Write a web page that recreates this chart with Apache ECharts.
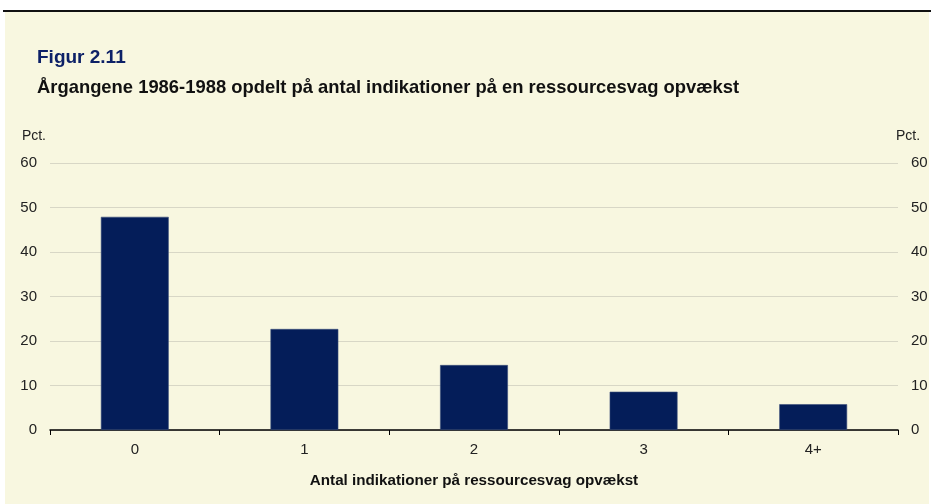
<!DOCTYPE html>
<html>
<head>
<meta charset="utf-8">
<script src="https://cdn.jsdelivr.net/npm/echarts@6/dist/echarts.min.js"></script>
<style>
    html, body { margin: 0; padding: 0; background: #ffffff; }
    #chart { width: 931px; height: 504px; }
</style>
</head>
<body>
<div id="chart"></div>
<script>
// data
var categories = ['0', '1', '2', '3', '4+']
var shareValues = [47.9, 22.7, 14.6, 8.6, 5.8]
var yTicks = { min: 0, max: 60, interval: 10 }

var font = '"Liberation Sans", Arial, sans-serif'
var myChart = echarts.init(document.getElementById('chart'))

var valueAxis = function (pos) {
    return {
        type: 'value',
        position: pos,
        min: yTicks.min,
        max: yTicks.max,
        interval: yTicks.interval,
        name: 'Pct.',
        nameLocation: 'end',
        nameGap: 20,
        nameTextStyle: {
            color: '#222',
            fontFamily: font,
            fontSize: 14,
            align: pos === 'left' ? 'right' : 'left',
            padding: pos === 'left' ? [0, 4, 0, 0] : [0, 0, 0, -2]
        },
        axisLine: { show: false },
        axisTick: { show: false },
        axisLabel: {
            color: '#222',
            fontFamily: font,
            fontSize: 15,
            margin: 13
        },
        splitLine: {
            show: pos === 'left',
            lineStyle: { color: '#d8d7c6', width: 1 }
        }
    }
}

var option = {
    animation: false,
    backgroundColor: '#ffffff',
    graphic: [
        // cream panel + top rule
        { type: 'rect', z: -10, shape: { x: 5, y: 12, width: 924, height: 492 }, style: { fill: '#f8f7e0' } },
        { type: 'rect', z: -9, shape: { x: 3, y: 10, width: 928, height: 2 }, style: { fill: '#111' } }
    ],
    title: [{
        text: 'Figur 2.11',
        left: 32,
        top: 43,
        textStyle: { color: '#0d2167', fontFamily: font, fontSize: 19, fontWeight: 'bold' }
    }, {
        text: 'Årgangene 1986-1988 opdelt på antal indikationer på en ressourcesvag opvækst',
        left: 32,
        top: 74,
        textStyle: { color: '#111', fontFamily: font, fontSize: 18.4, fontWeight: 'bold' }
    }],
    grid: {
        left: 50,
        right: 33,
        top: 163,
        bottom: 74,
        containLabel: false
    },
    xAxis: {
        type: 'category',
        data: categories,
        name: 'Antal indikationer på ressourcesvag opvækst',
        nameLocation: 'middle',
        nameGap: 43,
        nameTextStyle: { color: '#111', fontFamily: font, fontSize: 15.2, fontWeight: 'bold' },
        axisLine: { lineStyle: { color: '#000', width: 1.5 } },
        axisTick: { show: true, length: 5, lineStyle: { color: '#000' } },
        axisLabel: { color: '#222', fontFamily: font, fontSize: 15, margin: 12 }
    },
    yAxis: [valueAxis('left'), valueAxis('right')],
    series: [{
        type: 'bar',
        data: shareValues,
        barWidth: '40%',
        itemStyle: { color: '#041d59', borderColor: '#3a4f7a', borderWidth: 0.6 }
    }]
}
myChart.setOption(option)
</script>
</body>
</html>
